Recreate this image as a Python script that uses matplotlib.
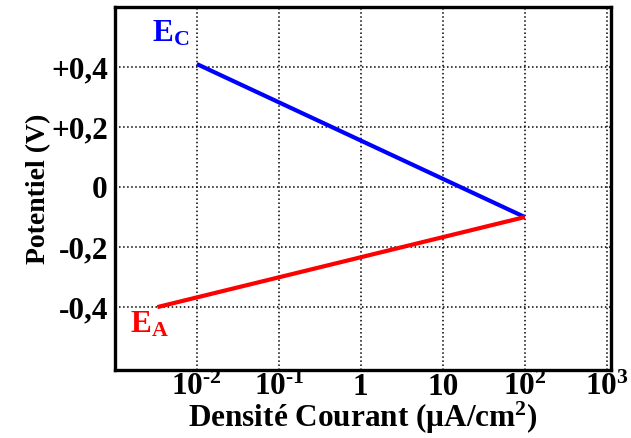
import matplotlib
matplotlib.use('Agg')
import matplotlib.pyplot as plt
import numpy as np

# data
courant_c = [1e-2, 1e2]        # uA/cm2
potentiel_c = [0.41, -0.10]    # V
courant_a = [3.3e-3, 1e2]
potentiel_a = [-0.40, -0.10]

xticks = [1e-2, 1e-1, 1, 10, 1e2, 1e3]
xlabels = [r'10$^{\text{-2}}$', r'10$^{\text{-1}}$', '1', '10', r'10$^{\text{2}}$', r'10$^{\text{3}}$']
yticks = [0.4, 0.2, 0, -0.2, -0.4]
ylabels = ['+0,4', '+0,2', '0', '-0,2', '-0,4']

plt.rcParams['font.family'] = ['Liberation Serif', 'DejaVu Serif']
plt.rcParams['font.weight'] = 'bold'
plt.rcParams['mathtext.fontset'] = 'custom'
plt.rcParams['mathtext.rm'] = 'Liberation Serif:bold'
plt.rcParams['mathtext.it'] = 'Liberation Serif:bold'
plt.rcParams['mathtext.bf'] = 'Liberation Serif:bold'

fig = plt.figure(figsize=(6.31, 4.38), dpi=100)
ax = fig.add_axes([0.182, 0.155, 0.786, 0.829])

ax.plot(courant_c, potentiel_c, color='#0000ff', lw=3, solid_capstyle='butt')
ax.plot(courant_a, potentiel_a, color='#ff0000', lw=3, solid_capstyle='butt')

ax.set_xscale('log')
ax.set_xlim(1e-3, 1.12e3)
ax.set_ylim(-0.61, 0.6)
ax.set_xticks(xticks)
ax.set_xticklabels(xlabels)
ax.minorticks_off()
ax.set_yticks(yticks)
ax.set_yticklabels(ylabels)
ax.tick_params(length=0, labelsize=22.5)
ax.tick_params(axis='y', pad=5)
ax.tick_params(axis='x', pad=2)
ax.grid(True, color='black', linestyle=':', linewidth=1.1)

for s in ax.spines.values():
    s.set_linewidth(2.4)

ax.text(4.8e-3, 0.51, r'E$_\mathrm{C}$', color='#0000ff', fontsize=22.5, ha='center', va='center')
ax.text(2.65e-3, -0.46, r'E$_\mathrm{A}$', color='#ff0000', fontsize=22.5, ha='center', va='center')

ax.set_xlabel(r'Densité Courant ($\mu$A/cm$^2$)', fontsize=22.5, fontweight='bold', labelpad=-2)
ax.set_ylabel('Potentiel (V)', fontsize=20, fontweight='bold', labelpad=0)

fig.savefig('out.png', dpi=100)
